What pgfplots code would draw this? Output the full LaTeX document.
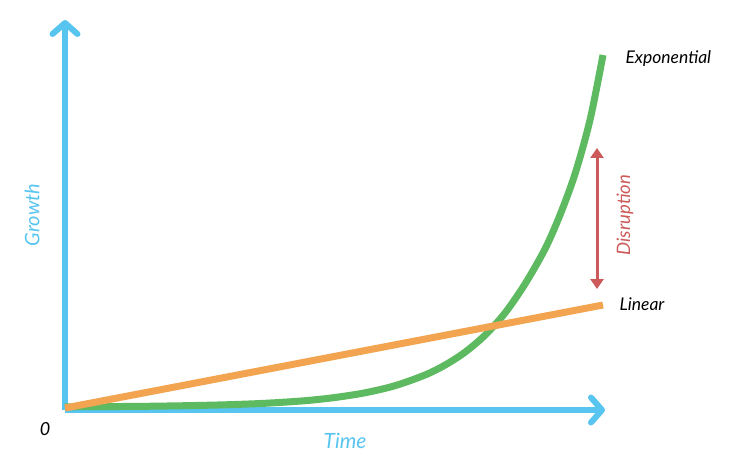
\documentclass[border=0pt]{standalone}
\usepackage{fontspec}
\setmainfont{Lato}
\usepackage{pgfplots}
\pgfplotsset{compat=1.18}
\usetikzlibrary{arrows.meta}

\definecolor{axblue}{RGB}{88,196,240}
\definecolor{expgreen}{RGB}{94,186,96}
\definecolor{linorange}{RGB}{242,164,80}
\definecolor{disred}{RGB}{204,90,90}

\begin{document}
\begin{tikzpicture}
\useasboundingbox (0,0) rectangle (739pt,464pt);
\begin{axis}[
    at={(65pt,54pt)}, anchor=south west,
    scale only axis,
    width=540pt, height=390pt,
    xmin=0, xmax=540, ymin=0, ymax=390,
    axis lines=left,
    axis line style={axblue, line width=6pt,
        -{Straight Barb[length=11pt 0, width=25pt 0, round]}},
    ticks=none,
    clip=false,
    font=\itshape,
]
% exponential growth
\addplot[expgreen, line width=7pt, smooth] coordinates {
    (0,3.2) (40,3.4) (80,3.7) (120,4.3) (160,5.2) (200,6.7) (240,9.3)
    (270,12.5) (300,17.2) (330,24.3) (360,35) (380,44.9) (400,57.8)
    (420,74.8) (440,97) (460,126) (480,161) (495,195) (510,236)
    (525,290) (538,355)};
% linear growth
\addplot[linorange, line width=7pt] coordinates {(0,2) (538,105)};
% disruption gap
\addplot[disred, line width=3pt,
    {Triangle[length=10pt 0, width=13pt 0]}-{Triangle[length=10pt 0, width=13pt 0]}]
    coordinates {(532,121) (532,262)};

\node[anchor=west, font=\itshape\fontsize{17.5}{20}\selectfont] at (axis cs:557,351) {Exponential};
\node[anchor=west, font=\itshape\fontsize{17.5}{20}\selectfont] at (axis cs:551,106) {Linear};
\node[rotate=90, text=disred, font=\itshape\fontsize{18.5}{21}\selectfont] at (axis cs:560,195) {Disruption};
\node[rotate=90, text=axblue, font=\itshape\fontsize{20}{23}\selectfont] at (axis cs:-33,195) {Growth};
\node[text=axblue, font=\itshape\fontsize{21}{24}\selectfont] at (axis cs:280,-31) {Time};
\node[font=\itshape\fontsize{18}{21}\selectfont] at (axis cs:-20,-19) {0};
\end{axis}
\end{tikzpicture}
\end{document}
